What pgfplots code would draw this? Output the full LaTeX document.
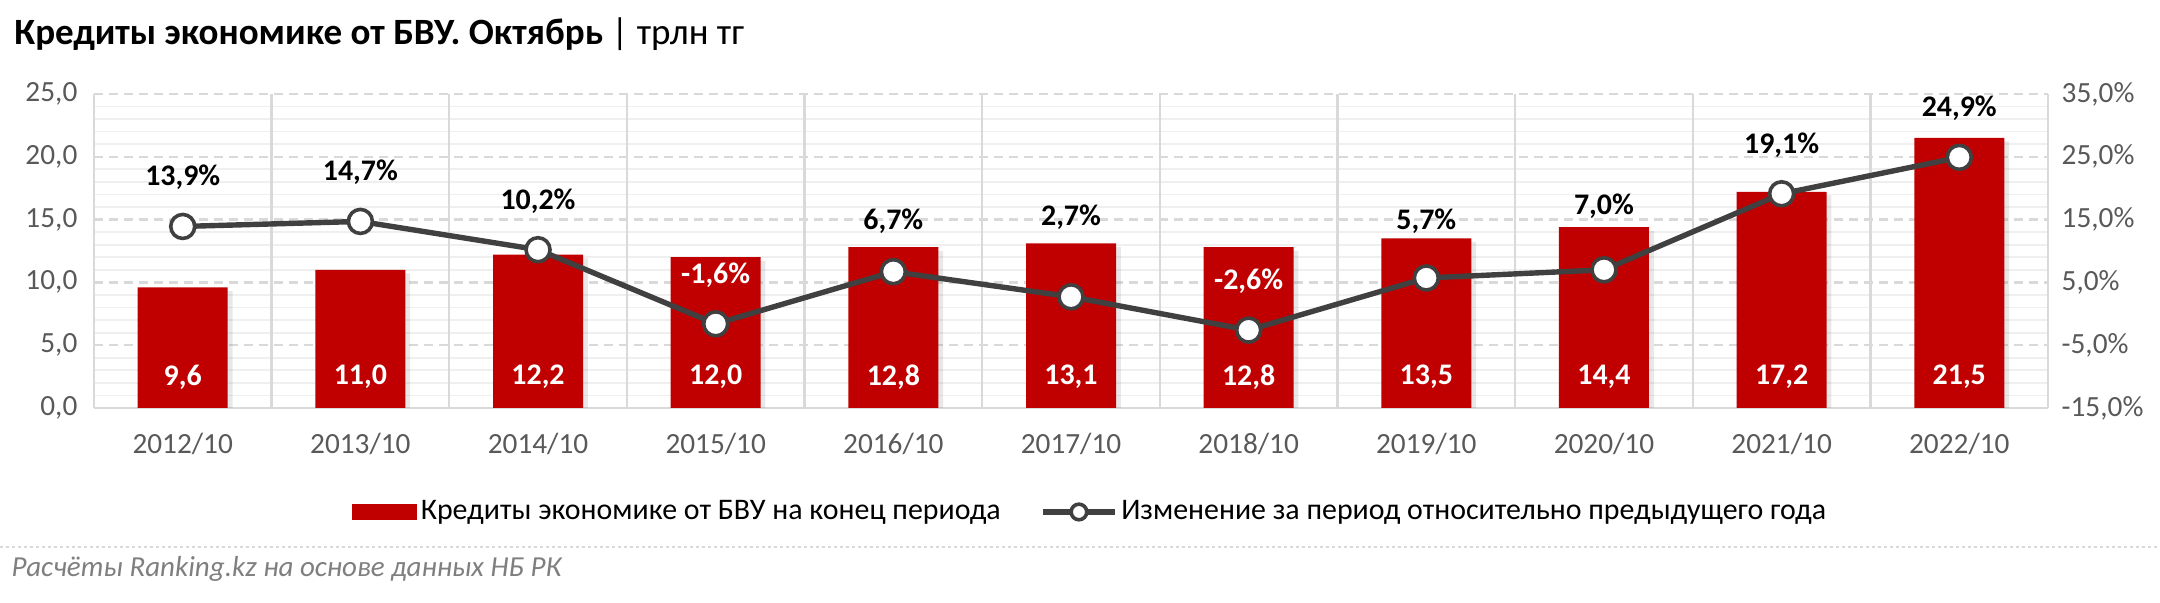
\documentclass[border=0pt]{standalone}
\usepackage{pgfplots}
\pgfplotsset{compat=1.18}
\usepackage{pgfplotstable}
\usepackage{fontspec}
\setmainfont{Carlito}
\usetikzlibrary{shadows}

\definecolor{barred}{HTML}{C00000}
\definecolor{linegray}{HTML}{404040}
\definecolor{ticktext}{HTML}{595959}
\definecolor{gridmaj}{HTML}{D9D9D9}
\definecolor{gridmin}{HTML}{EFEFEF}
\definecolor{foot}{HTML}{7F7F7F}

% credits, trn tenge
\pgfplotstableread{
x credit
0 9.6
1 11.0
2 12.2
3 12.0
4 12.8
5 13.1
6 12.8
7 13.5
8 14.4
9 17.2
10 21.5
}\credits

% change vs previous year, % (w = 100 for a white label, dy = label offset in bp)
\pgfplotstableread{
x change w dy
0 13.9 0 16.3
1 14.7 0 16.3
2 10.2 0 16.3
3 -1.6 100 16.3
4 6.7 0 16.7
5 2.7 0 26.4
6 -2.6 100 16.3
7 5.7 0 18.9
8 7.0 0 21.1
9 19.1 0 16.3
10 24.9 0 16.3
}\changes

\pgfplotsset{
  base/.style={
    scale only axis,
    width=651.4bp, height=104.7bp,
    xmin=-0.5, xmax=10.5,
    /pgf/number format/use comma,
    /pgf/number format/fixed,
    /pgf/number format/fixed zerofill,
    /pgf/number format/precision=1,
    /pgf/number format/assume math mode=true,
    tick label style={font=\fontsize{9.8}{11}\selectfont, text=ticktext},
    major tick length=0pt, minor tick length=0pt,
    tick style={draw=none},
  },
  linelegend/.style={
    legend image code/.code={\draw[mark repeat=2, mark phase=2, ##1, mark size=2.6bp]
      plot coordinates {(0bp,0bp) (12bp,0bp) (24bp,0bp)};},
  },
}

\begin{document}
\begin{tikzpicture}
\begin{axis}[base, name=ax1,
    ymin=0, ymax=25, ytick={0,5,...,25},
    minor y tick num=4,
    xtick={0,...,10},
    xticklabels={2012/10,2013/10,2014/10,2015/10,2016/10,2017/10,2018/10,2019/10,2020/10,2021/10,2022/10},
    xticklabel style={yshift=-5bp},
    yticklabel style={xshift=-2bp},
    axis x line*=bottom, axis y line*=left,
    x axis line style={draw=gridmaj, line width=0.8bp, -},
    y axis line style={draw=none},
    ymajorgrids, yminorgrids,
    major grid style={gridmaj, line width=0.8bp, dash pattern=on 3bp off 2bp},
    minor grid style={gridmin, line width=0.6bp},
    extra x ticks={-0.5,0.5,...,10.5},
    extra x tick labels={},
    extra x tick style={grid=major, major grid style={gridmaj, line width=0.8bp, solid}},
  ]
  \addplot[ybar, bar width=30bp, fill=barred, draw=none,
    drop shadow={opacity=0.18, shadow xshift=1.6bp, shadow yshift=-1.2bp},
    visualization depends on={\thisrow{credit} \as \rawy},
    nodes near coords,
    nodes near coords style={font=\bfseries\fontsize{10}{12}\selectfont, text=white,
      anchor=center, yshift={(10.3-4.188*\rawy)*1bp}},
  ] table[x=x, y=credit] {\credits};
\end{axis}

\begin{axis}[base,
    ymin=-15, ymax=35, ytick={-15,-5,...,35},
    axis y line*=right, hide x axis,
    y axis line style={draw=none},
    yticklabel={\pgfmathprintnumber{\tick}\%},
    yticklabel style={xshift=1bp},
    legend style={draw=none, fill=none, at={(0.51,-0.331)}, anchor=center,
      font=\fontsize{10}{12}\selectfont, legend columns=2,
      nodes={inner sep=1.2bp},
      /tikz/every even column/.append style={column sep=12bp}},
  ]
  \addlegendimage{legend image code/.code={\fill[barred] (0bp,-2.5bp) rectangle (21.5bp,2.5bp);}}
  \addlegendentry{Кредиты экономике от БВУ на конец периода}
  \addplot[linegray, line width=1.8bp, mark=*, mark size=4bp,
    mark options={fill=white, draw=linegray, line width=1.2bp},
    linelegend,
    visualization depends on={\thisrow{w} \as \wv},
    visualization depends on={\thisrow{dy} \as \dyv},
    nodes near coords={\pgfmathprintnumber{\pgfplotspointmeta}\%},
    nodes near coords style={font=\bfseries\fontsize{10}{12}\selectfont,
      text=white!\wv!black, anchor=center, yshift=\dyv bp},
  ] table[x=x, y=change] {\changes};
  \addlegendentry{Изменение за период относительно предыдущего года}
\end{axis}

\node[anchor=west, inner sep=0pt, font=\fontsize{12.4}{14}\selectfont]
  at ([shift={(-26.7bp,124.5bp)}]ax1.south west)
  {\textbf{Кредиты экономике от БВУ. Октябрь} | трлн тг};
\draw[draw=gridmaj, line width=0.7bp, dash pattern=on 1bp off 1bp]
  ([shift={(-31.3bp,-46.3bp)}]ax1.south west) -- ([shift={(688.7bp,-46.3bp)}]ax1.south west);
\node[anchor=west, inner sep=0pt, text=foot, font=\itshape\fontsize{9.7}{11}\selectfont]
  at ([shift={(-27.6bp,-53.7bp)}]ax1.south west)
  {Расчёты Ranking.kz на основе данных НБ РК};

\pgfresetboundingbox
\path[use as bounding box] ([shift={(-31.3bp,-64.7bp)}]ax1.south west)
  rectangle ([shift={(688.7bp,136bp)}]ax1.south west);
\end{tikzpicture}
\end{document}
